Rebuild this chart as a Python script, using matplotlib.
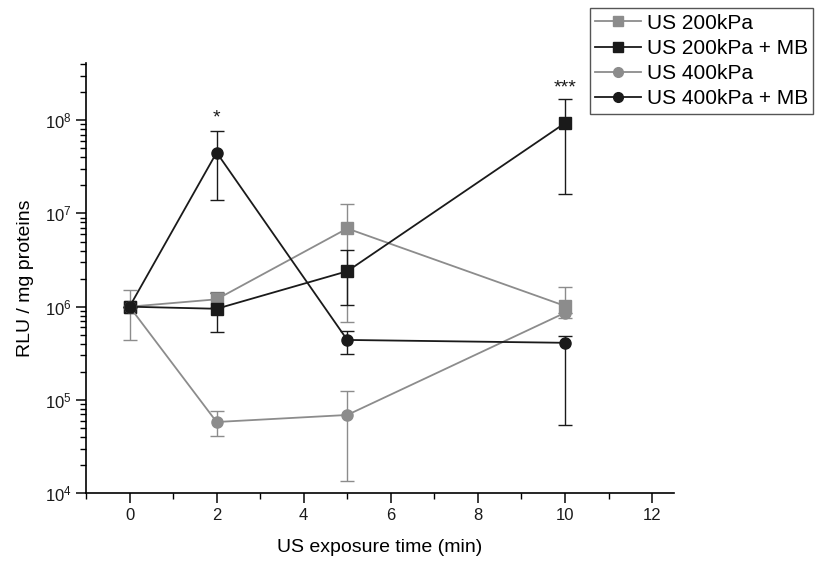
import numpy as np
import matplotlib
matplotlib.use("Agg")
import matplotlib.pyplot as plt
from matplotlib.lines import Line2D
from matplotlib.ticker import LogLocator, NullFormatter, MultipleLocator

plt.rcParams["font.family"] = ["Liberation Sans", "DejaVu Sans"]
plt.rcParams["mathtext.fontset"] = "custom"
plt.rcParams["mathtext.rm"] = "Liberation Sans"
plt.rcParams["mathtext.it"] = "Liberation Sans:italic"
plt.rcParams["mathtext.bf"] = "Liberation Sans:bold"

# donnees
temps = [0, 2, 5, 10]

us200 = [1.0e6, 1.2e6, 6.9e6, 1.02e6]
us200_bas = [4.4e5, 1.0e6, 6.9e5, 7.6e5]
us200_haut = [1.52e6, 1.45e6, 1.25e7, 1.64e6]

us200_mb = [1.0e6, 0.95e6, 2.4e6, 9.3e7]
us200_mb_bas = [1.0e6, 5.3e5, 1.05e6, 1.6e7]
us200_mb_haut = [1.0e6, 1.4e6, 4.1e6, 1.68e8]

us400 = [1.0e6, 5.8e4, 6.9e4, 8.6e5]
us400_bas = [1.0e6, 4.1e4, 1.35e4, 8.6e5]
us400_haut = [1.0e6, 7.6e4, 1.25e5, 8.6e5]

us400_mb = [1.0e6, 4.5e7, 4.4e5, 4.1e5]
us400_mb_bas = [1.0e6, 1.38e7, 3.1e5, 5.4e4]
us400_mb_haut = [1.0e6, 7.6e7, 5.5e5, 4.8e5]

etoiles = {2: ("*", 8.6e7), 10: ("***", 1.8e8)}

GRIS = "#8c8c8c"
NOIR = "#1a1a1a"

fig = plt.figure(figsize=(8.35, 5.63), dpi=100)
ax = fig.add_axes([0.103, 0.124, 0.704, 0.764])

series = [
    ("US 200kPa", us200, us200_bas, us200_haut, GRIS, "s"),
    ("US 200kPa + MB", us200_mb, us200_mb_bas, us200_mb_haut, NOIR, "s"),
    ("US 400kPa", us400, us400_bas, us400_haut, GRIS, "o"),
    ("US 400kPa + MB", us400_mb, us400_mb_bas, us400_mb_haut, NOIR, "o"),
]
poignees = []
for nom, y, bas, haut, c, m in series:
    y = np.array(y)
    err = [y - np.array(bas), np.array(haut) - y]
    ax.errorbar(temps, y, yerr=err, color=c, marker=m, markersize=8,
                linewidth=1.3, elinewidth=1.0, capsize=5, capthick=1.0)
    poignees.append(Line2D([], [], color=c, marker=m, markersize=7,
                           linewidth=1.3, label=nom))

for x, (txt, yy) in etoiles.items():
    ax.text(x, yy, txt, ha="center", va="bottom", fontsize=14, color=NOIR)

ax.set_yscale("log")
ax.set_ylim(1e4, 4.1e8)
ax.set_xlim(-1, 12.5)
ax.xaxis.set_major_locator(MultipleLocator(2))
ax.xaxis.set_minor_locator(MultipleLocator(1))
ax.yaxis.set_major_locator(LogLocator(base=10, numticks=10))
ax.yaxis.set_minor_locator(LogLocator(base=10, subs=np.arange(2, 10), numticks=10))
ax.yaxis.set_minor_formatter(NullFormatter())

for s in ("top", "right"):
    ax.spines[s].set_visible(False)
for s in ("left", "bottom"):
    ax.spines[s].set_linewidth(1.2)
ax.tick_params(which="major", direction="out", length=7, width=1.2, labelsize=12,
               colors=NOIR)
ax.tick_params(which="minor", direction="out", length=4, width=1.0)

ax.set_xlabel("US exposure time (min)", fontsize=14, labelpad=12)
ax.set_ylabel("RLU / mg proteins", fontsize=14, labelpad=8)

fig.legend(handles=poignees, loc="upper left", bbox_to_anchor=(0.706, 0.985),
           fontsize=15, frameon=True, fancybox=False, edgecolor="#555555",
           framealpha=1, handlelength=2.2, borderpad=0.25, labelspacing=0.3,
           handletextpad=0.3, borderaxespad=0)

fig.savefig("out.png", dpi=100)
